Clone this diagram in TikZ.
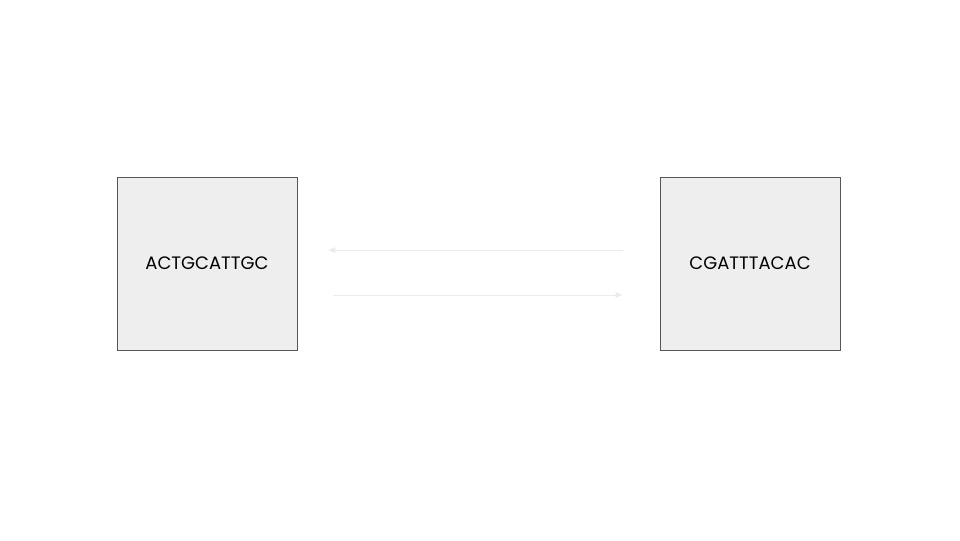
\documentclass[tikz,border=0pt]{standalone}
\usepackage{fontspec}
\setmainfont{Poppins}
\usetikzlibrary{arrows.meta}
\definecolor{boxfill}{HTML}{EEEEEE}
\definecolor{boxline}{HTML}{555555}
\definecolor{pilecol}{HTML}{EBEBEB}

\begin{document}
\begin{tikzpicture} [seq/.style={draw=boxline, fill=boxfill, line width=0.6pt,
 			      minimum width=4.5cm, minimum height=4.325cm, inner sep=0pt,
 			      font=\fontsize{12.8}{15}\selectfont},
 			      pile/.style={draw=pilecol, line width=0.6pt, -{Triangle[length=5pt,width=4pt]}}]
    \useasboundingbox (0,0) rectangle (24,-13.5);
    \node[seq] (left) at (5.175,-6.5875) {ACTGCATTGC};
    \node[seq] (right) at (18.75,-6.5875) {CGATTTACAC};
    \draw[pile, shorten <=0.925cm, shorten >=0.775cm]
    	([yshift=0.3375cm]right.west) -- ([yshift=0.3375cm]left.east);
    \draw[pile, shorten <=0.9cm, shorten >=0.925cm]
    	([yshift=-0.7875cm]left.east) -- ([yshift=-0.7875cm]right.west);
\end{tikzpicture}
\end{document}
